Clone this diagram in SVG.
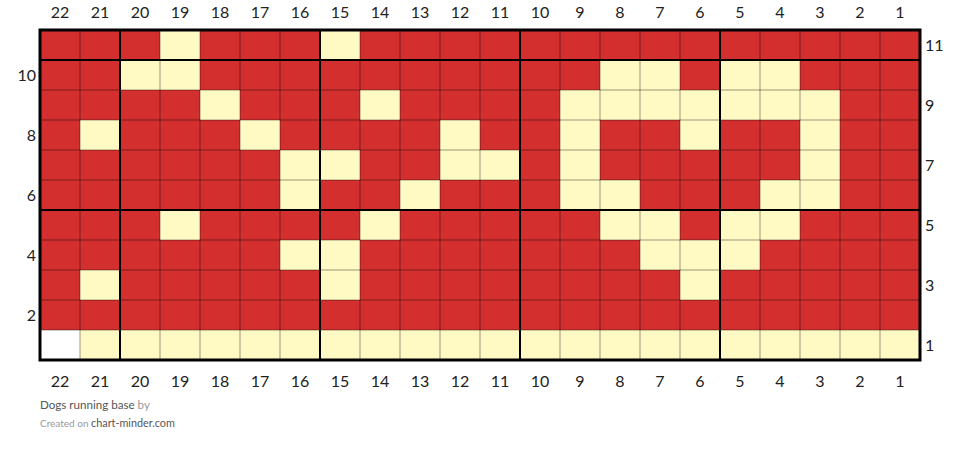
<svg xmlns="http://www.w3.org/2000/svg" width="960" height="453" viewBox="0 0 960 453">
<style>
.lbl{font-family:Lato,"Open Sans","Liberation Sans",sans-serif;font-size:16px;fill:#222}
.c{fill:#FFF9C4}
.thin{stroke:#000;stroke-opacity:0.4;stroke-width:1;fill:none}
.thick{stroke:#000;stroke-width:2;fill:none}
.ft{font-family:Lato,"Open Sans","Liberation Sans",sans-serif;font-size:11px}
</style>
<rect width="960" height="453" fill="#fff"/>
<g id="grid">
<rect x="40" y="30" width="880" height="330" fill="#D32F2F"/>
<g id="row11"><rect class="c" x="160" y="30" width="40" height="30"/><rect class="c" x="320" y="30" width="40" height="30"/></g>
<g id="row10"><rect class="c" x="120" y="60" width="80" height="30"/><rect class="c" x="600" y="60" width="80" height="30"/><rect class="c" x="720" y="60" width="80" height="30"/></g>
<g id="row9"><rect class="c" x="200" y="90" width="40" height="30"/><rect class="c" x="360" y="90" width="40" height="30"/><rect class="c" x="560" y="90" width="280" height="30"/></g>
<g id="row8"><rect class="c" x="80" y="120" width="40" height="30"/><rect class="c" x="240" y="120" width="40" height="30"/><rect class="c" x="440" y="120" width="40" height="30"/><rect class="c" x="560" y="120" width="40" height="30"/><rect class="c" x="680" y="120" width="40" height="30"/><rect class="c" x="800" y="120" width="40" height="30"/></g>
<g id="row7"><rect class="c" x="280" y="150" width="80" height="30"/><rect class="c" x="440" y="150" width="80" height="30"/><rect class="c" x="560" y="150" width="40" height="30"/><rect class="c" x="800" y="150" width="40" height="30"/></g>
<g id="row6"><rect class="c" x="280" y="180" width="40" height="30"/><rect class="c" x="400" y="180" width="40" height="30"/><rect class="c" x="560" y="180" width="80" height="30"/><rect class="c" x="760" y="180" width="80" height="30"/></g>
<g id="row5"><rect class="c" x="160" y="210" width="40" height="30"/><rect class="c" x="360" y="210" width="40" height="30"/><rect class="c" x="600" y="210" width="80" height="30"/><rect class="c" x="720" y="210" width="80" height="30"/></g>
<g id="row4"><rect class="c" x="280" y="240" width="80" height="30"/><rect class="c" x="640" y="240" width="120" height="30"/></g>
<g id="row3"><rect class="c" x="80" y="270" width="40" height="30"/><rect class="c" x="320" y="270" width="40" height="30"/><rect class="c" x="680" y="270" width="40" height="30"/></g>
<g id="row1"><rect x="40" y="330" width="40" height="30" fill="#fff"/><rect class="c" x="80" y="330" width="840" height="30"/></g>
</g>
<g id="lines">
<path class="thin" d="M80 30V360M160 30V360M200 30V360M240 30V360M280 30V360M360 30V360M400 30V360M440 30V360M480 30V360M560 30V360M600 30V360M640 30V360M680 30V360M760 30V360M800 30V360M840 30V360M880 30V360M40 90H920M40 120H920M40 150H920M40 180H920M40 240H920M40 270H920M40 300H920M40 330H920"/>
<path class="thick" d="M120 30V360M320 30V360M520 30V360M720 30V360M40 60H920M40 210H920"/>
<rect x="40" y="30" width="880" height="330" fill="none" stroke="#000" stroke-width="3"/>
</g>
<g id="top-labels" class="lbl" text-anchor="middle">
<text x="60" y="18">22</text><text x="100" y="18">21</text><text x="140" y="18">20</text><text x="180" y="18">19</text><text x="220" y="18">18</text><text x="260" y="18">17</text><text x="300" y="18">16</text><text x="340" y="18">15</text><text x="380" y="18">14</text><text x="420" y="18">13</text><text x="460" y="18">12</text><text x="500" y="18">11</text><text x="540" y="18">10</text><text x="580" y="18">9</text><text x="620" y="18">8</text><text x="660" y="18">7</text><text x="700" y="18">6</text><text x="740" y="18">5</text><text x="780" y="18">4</text><text x="820" y="18">3</text><text x="860" y="18">2</text><text x="900" y="18">1</text>
</g>
<g id="bottom-labels" class="lbl" text-anchor="middle">
<text x="60" y="387">22</text><text x="100" y="387">21</text><text x="140" y="387">20</text><text x="180" y="387">19</text><text x="220" y="387">18</text><text x="260" y="387">17</text><text x="300" y="387">16</text><text x="340" y="387">15</text><text x="380" y="387">14</text><text x="420" y="387">13</text><text x="460" y="387">12</text><text x="500" y="387">11</text><text x="540" y="387">10</text><text x="580" y="387">9</text><text x="620" y="387">8</text><text x="660" y="387">7</text><text x="700" y="387">6</text><text x="740" y="387">5</text><text x="780" y="387">4</text><text x="820" y="387">3</text><text x="860" y="387">2</text><text x="900" y="387">1</text>
</g>
<g id="left-labels" class="lbl" text-anchor="end">
<text x="36" y="81">10</text><text x="36" y="141">8</text><text x="36" y="201">6</text><text x="36" y="261">4</text><text x="36" y="321">2</text>
</g>
<g id="right-labels" class="lbl">
<text x="925" y="51">11</text><text x="925" y="111">9</text><text x="925" y="171">7</text><text x="925" y="231">5</text><text x="925" y="291">3</text><text x="925" y="351">1</text>
</g>
<g id="footer" class="ft">
<text x="40" y="409" font-size="11.6" fill="#555">Dogs running base <tspan fill="#999">by</tspan></text>
<text x="40" y="427" font-size="10" fill="#999">Created on <tspan fill="#555" font-size="10.8">chart-minder.com</tspan></text>
</g>
</svg>
